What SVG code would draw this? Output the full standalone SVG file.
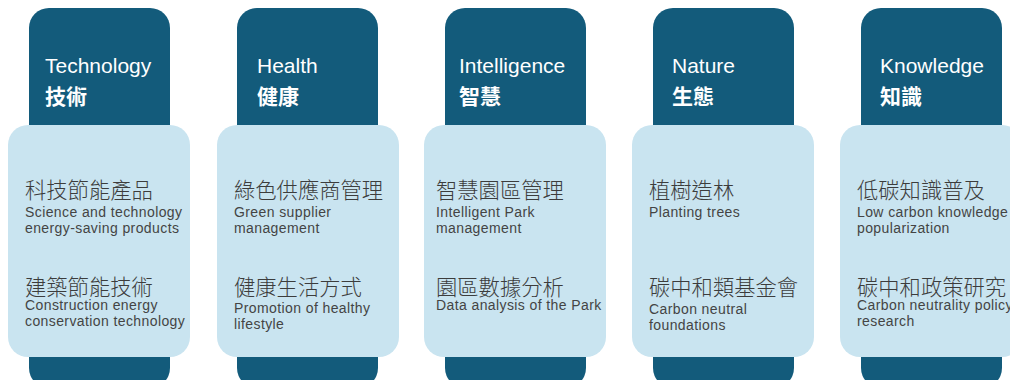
<svg xmlns="http://www.w3.org/2000/svg" width="1010" height="380" viewBox="0 0 1010 380">
  <style>
    .tab { fill: #135b7b; }
    .card { fill: #c9e4f0; }
    .hen { font-family: "Liberation Sans", Arial, sans-serif; font-size: 21px; fill: #ffffff; }
    .hzh { font-family: "Noto Sans CJK TC", "Noto Sans CJK SC", sans-serif; font-size: 21px; font-weight: 700; fill: #ffffff; }
    .zh { font-family: "Noto Sans CJK TC", "Noto Sans CJK SC", sans-serif; font-size: 21.3px; font-weight: 300; fill: #3c3c3c; }
    .en { font-family: "Liberation Sans", Arial, sans-serif; font-size: 14px; letter-spacing: 0.4px; fill: #444444; }
  </style>

  <!-- Technology -->
  <g id="technology">
    <rect class="tab" x="29" y="8" width="141" height="380" rx="20"/>
    <text class="hen" x="45" y="73">Technology</text>
    <text class="hzh" x="45" y="104">技術</text>
    <rect class="card" x="8" y="125" width="182" height="232" rx="20"/>
    <text class="zh" x="25" y="198">科技節能產品</text>
    <text class="en" x="25" y="217">Science and technology</text>
    <text class="en" x="25" y="233">energy-saving products</text>
    <text class="zh" x="25" y="295">建築節能技術</text>
    <text class="en" x="25" y="310">Construction energy</text>
    <text class="en" x="25" y="326">conservation technology</text>
  </g>

  <!-- Health -->
  <g id="health">
    <rect class="tab" x="237" y="8" width="141" height="380" rx="20"/>
    <text class="hen" x="257" y="73">Health</text>
    <text class="hzh" x="257" y="104">健康</text>
    <rect class="card" x="217" y="125" width="182" height="232" rx="20"/>
    <text class="zh" x="234" y="198">綠色供應商管理</text>
    <text class="en" x="234" y="217">Green supplier</text>
    <text class="en" x="234" y="233">management</text>
    <text class="zh" x="234" y="295">健康生活方式</text>
    <text class="en" x="234" y="313">Promotion of healthy</text>
    <text class="en" x="234" y="329">lifestyle</text>
  </g>

  <!-- Intelligence -->
  <g id="intelligence">
    <rect class="tab" x="445" y="8" width="141" height="380" rx="20"/>
    <text class="hen" x="459" y="73">Intelligence</text>
    <text class="hzh" x="459" y="104">智慧</text>
    <rect class="card" x="424" y="125" width="182" height="232" rx="20"/>
    <text class="zh" x="436" y="198">智慧園區管理</text>
    <text class="en" x="436" y="217">Intelligent Park</text>
    <text class="en" x="436" y="233">management</text>
    <text class="zh" x="436" y="295">園區數據分析</text>
    <text class="en" x="436" y="310">Data analysis of the Park</text>
  </g>

  <!-- Nature -->
  <g id="nature">
    <rect class="tab" x="653" y="8" width="141" height="380" rx="20"/>
    <text class="hen" x="672" y="73">Nature</text>
    <text class="hzh" x="672" y="104">生態</text>
    <rect class="card" x="632" y="125" width="182" height="232" rx="20"/>
    <text class="zh" x="649" y="198">植樹造林</text>
    <text class="en" x="649" y="217">Planting trees</text>
    <text class="zh" x="649" y="295">碳中和類基金會</text>
    <text class="en" x="649" y="314">Carbon neutral</text>
    <text class="en" x="649" y="330">foundations</text>
  </g>

  <!-- Knowledge -->
  <g id="knowledge">
    <rect class="tab" x="861" y="8" width="141" height="380" rx="20"/>
    <text class="hen" x="880" y="73">Knowledge</text>
    <text class="hzh" x="880" y="104">知識</text>
    <rect class="card" x="840" y="125" width="182" height="232" rx="20"/>
    <text class="zh" x="857" y="198">低碳知識普及</text>
    <text class="en" x="857" y="217">Low carbon knowledge</text>
    <text class="en" x="857" y="233">popularization</text>
    <text class="zh" x="857" y="295">碳中和政策研究</text>
    <text class="en" x="857" y="310">Carbon neutrality policy</text>
    <text class="en" x="857" y="326">research</text>
  </g>

  <g id="connectors"></g>
</svg>
